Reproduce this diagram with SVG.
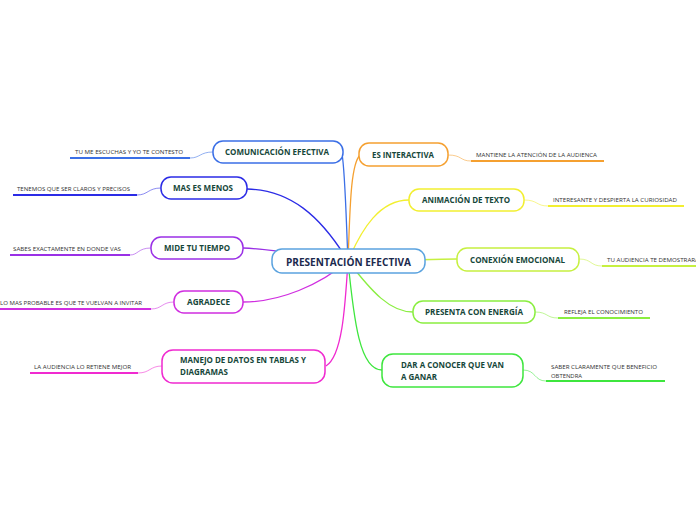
<svg xmlns="http://www.w3.org/2000/svg" width="696" height="520" viewBox="0 0 696 520">
<style>
.n{fill:#fff;stroke-width:1.5}
.t{font-family:"Open Sans","Liberation Sans",sans-serif;font-weight:bold;font-size:8px;fill:#16473a}
.c{font-family:"Open Sans","Liberation Sans",sans-serif;font-weight:bold;font-size:10px;fill:#1b2a4e}
.l{font-family:"Open Sans","Liberation Sans",sans-serif;font-size:5.6px;fill:#333}
.e{fill:none;stroke-width:1.3}
.u{fill:none;stroke-width:2}
.s{fill:none;stroke-width:1;opacity:0.55}
</style>
<rect width="696" height="520" fill="#fff"/>
<g id="connectors">
<path class="e" stroke="#3b6fe6" d="M348,261 C346,215 345,170 342,154"/>
<path class="e" stroke="#2b2be6" d="M348,261 C320,215 290,190 247,189"/>
<path class="e" stroke="#9a30e6" d="M348,261 C300,254 270,249 243,248"/>
<path class="e" stroke="#d02ee0" d="M348,261 C320,285 280,302 243,302"/>
<path class="e" stroke="#f02ad0" d="M348,261 C345,310 342,356 326,366"/>
<path class="e" stroke="#f5a030" d="M348,261 C350,215 350,165 360,155"/>
<path class="e" stroke="#f2ef30" d="M348,261 C362,228 380,200 409,200"/>
<path class="e" stroke="#c6f040" d="M348,261 C400,261 430,259 457,259"/>
<path class="e" stroke="#8aee40" d="M348,261 C372,292 390,312 413,312"/>
<path class="e" stroke="#3ee63e" d="M348,261 C354,322 360,370 382,370"/>

<path class="s" stroke="#3b6fe6" d="M213,152 C200,152 200,158 190,158"/>
<path class="u" stroke="#3b6fe6" d="M70,158 H190"/>
<path class="s" stroke="#2b2be6" d="M161,188 C148,188 148,195 137,195"/>
<path class="u" stroke="#2b2be6" d="M13,195 H137"/>
<path class="s" stroke="#9a30e6" d="M151,248 C138,248 138,255 130,255"/>
<path class="u" stroke="#9a30e6" d="M10,255 H130"/>
<path class="s" stroke="#d02ee0" d="M174,302 C162,302 162,309 151,309"/>
<path class="u" stroke="#d02ee0" d="M0,309 H151"/>
<path class="s" stroke="#f02ad0" d="M162,366 C150,366 150,373 138,373"/>
<path class="u" stroke="#f02ad0" d="M30,373 H138"/>
<path class="s" stroke="#f5a030" d="M448,155 C462,155 460,161 471,161"/>
<path class="u" stroke="#f5a030" d="M471,161 H604"/>
<path class="s" stroke="#f2ef30" d="M524,200 C538,200 536,206 548,206"/>
<path class="u" stroke="#f2ef30" d="M548,206 H684"/>
<path class="s" stroke="#c6f040" d="M579,259 C592,259 590,266 602,266"/>
<path class="u" stroke="#c6f040" d="M602,266 H696"/>
<path class="s" stroke="#8aee40" d="M535,312 C548,312 546,318 558,318"/>
<path class="u" stroke="#8aee40" d="M558,318 H650"/>
<path class="s" stroke="#3ee63e" d="M523,370 C536,370 534,381 546,381"/>
<path class="u" stroke="#3ee63e" d="M546,381 H665"/>
</g>

<g id="center">
<rect class="n" x="272" y="249" width="153" height="24" rx="10" stroke="#5ba3df"/>
<text class="c" x="348.5" y="265.5" text-anchor="middle" textLength="125" lengthAdjust="spacingAndGlyphs">PRESENTACIÓN EFECTIVA</text>
</g>

<g id="comunicacion">
<rect class="n" x="213" y="141" width="130" height="22" rx="10" stroke="#3b6fe6"/>
<text class="t" x="225" y="155" textLength="104" lengthAdjust="spacingAndGlyphs">COMUNICACIÓN EFECTIVA</text>
</g>
<g id="comunicacion-leaf"><text class="l" x="75" y="154" textLength="108" lengthAdjust="spacingAndGlyphs">TU ME ESCUCHAS Y YO TE CONTESTO</text></g>

<g id="mas">
<rect class="n" x="161" y="177" width="86" height="22" rx="10" stroke="#2b2be6"/>
<text class="t" x="173" y="191" textLength="60" lengthAdjust="spacingAndGlyphs">MAS ES MENOS</text>
</g>
<g id="mas-leaf"><text class="l" x="17" y="190.5" textLength="113" lengthAdjust="spacingAndGlyphs">TENEMOS QUE SER CLAROS Y PRECISOS</text></g>

<g id="mide">
<rect class="n" x="151" y="237" width="92" height="22" rx="10" stroke="#9a30e6"/>
<text class="t" x="164" y="251" textLength="66" lengthAdjust="spacingAndGlyphs">MIDE TU TIEMPO</text>
</g>
<g id="mide-leaf"><text class="l" x="13" y="250.5" textLength="108" lengthAdjust="spacingAndGlyphs">SABES EXACTAMENTE EN DONDE VAS</text></g>

<g id="agradece">
<rect class="n" x="174" y="291" width="69" height="22" rx="10" stroke="#d02ee0"/>
<text class="t" x="187" y="305" textLength="43" lengthAdjust="spacingAndGlyphs">AGRADECE</text>
</g>
<g id="agradece-leaf"><text class="l" x="0" y="304.5" textLength="142" lengthAdjust="spacingAndGlyphs">LO MAS PROBABLE ES QUE TE VUELVAN A INVITAR</text></g>

<g id="manejo">
<rect class="n" x="162" y="350" width="163" height="33" rx="11" stroke="#f02ad0"/>
<text class="t" x="180" y="363" textLength="126" lengthAdjust="spacingAndGlyphs">MANEJO DE DATOS EN TABLAS Y</text>
<text class="t" x="180" y="375" textLength="48" lengthAdjust="spacingAndGlyphs">DIAGRAMAS</text>
</g>
<g id="manejo-leaf"><text class="l" x="34" y="368.5" textLength="97" lengthAdjust="spacingAndGlyphs">LA AUDIENCIA LO RETIENE MEJOR</text></g>

<g id="interactiva">
<rect class="n" x="359" y="143" width="89" height="23" rx="10" stroke="#f5a030"/>
<text class="t" x="372" y="157.5" textLength="62" lengthAdjust="spacingAndGlyphs">ES INTERACTIVA</text>
</g>
<g id="interactiva-leaf"><text class="l" x="476" y="157" textLength="121" lengthAdjust="spacingAndGlyphs">MANTIENE LA ATENCIÓN DE LA AUDIENCA</text></g>

<g id="animacion">
<rect class="n" x="409" y="189" width="115" height="22" rx="10" stroke="#f2ef30"/>
<text class="t" x="422" y="203" textLength="88" lengthAdjust="spacingAndGlyphs">ANIMACIÓN DE TEXTO</text>
</g>
<g id="animacion-leaf"><text class="l" x="553" y="202" textLength="124" lengthAdjust="spacingAndGlyphs">INTERESANTE Y DESPIERTA LA CURIOSIDAD</text></g>

<g id="conexion">
<rect class="n" x="457" y="248" width="122" height="23" rx="10" stroke="#c6f040"/>
<text class="t" x="470" y="262.5" textLength="95" lengthAdjust="spacingAndGlyphs">CONEXIÓN EMOCIONAL</text>
</g>
<g id="conexion-leaf"><text class="l" x="607" y="261.5" textLength="92" lengthAdjust="spacingAndGlyphs">TU AUDIENCIA TE DEMOSTRARÁ</text></g>

<g id="presenta">
<rect class="n" x="413" y="301" width="122" height="22" rx="10" stroke="#8aee40"/>
<text class="t" x="425" y="315" textLength="98" lengthAdjust="spacingAndGlyphs">PRESENTA CON ENERGÍA</text>
</g>
<g id="presenta-leaf"><text class="l" x="564" y="314" textLength="79" lengthAdjust="spacingAndGlyphs">REFLEJA EL CONOCIMIENTO</text></g>

<g id="dar">
<rect class="n" x="382" y="354" width="141" height="33" rx="11" stroke="#3ee63e"/>
<text class="t" x="401" y="368" textLength="103" lengthAdjust="spacingAndGlyphs">DAR A CONOCER QUE VAN</text>
<text class="t" x="401" y="379.5" textLength="36" lengthAdjust="spacingAndGlyphs">A GANAR</text>
</g>
<g id="dar-leaf">
<text class="l" x="551" y="369" textLength="106" lengthAdjust="spacingAndGlyphs">SABER CLARAMENTE QUE BENEFICIO</text>
<text class="l" x="551" y="378" textLength="31" lengthAdjust="spacingAndGlyphs">OBTENDRA</text>
</g>
</svg>
